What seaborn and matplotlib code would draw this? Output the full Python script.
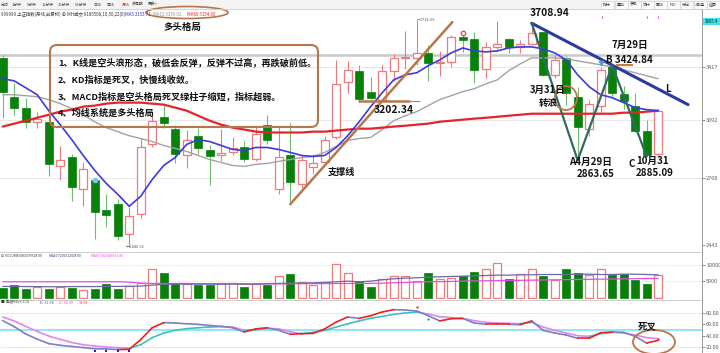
import numpy as np
import pandas as pd
import matplotlib
matplotlib.use("Agg")
import matplotlib.pyplot as plt
import seaborn as sns
from matplotlib.patches import FancyBboxPatch, Ellipse, Rectangle
from matplotlib.ticker import NullLocator, NullFormatter

# ---------------- data: Shanghai Composite, monthly 2018-02 .. 2022-11 ----------------
months = [f"{y}-{m:02d}" for y in range(2018, 2023) for m in range(1, 13)][1:59]

open_px = [3474, 3229, 3163, 3080, 3080, 2831, 2880, 2711, 2762, 2606,
           2636, 2491, 2586, 2951, 3109, 3040, 2895, 3000, 2920, 2890,
           2910, 2935, 2870, 3063, 2711, 2890, 2737, 2830, 2853, 2990,
           3321, 3390, 3260, 3211, 3388, 3474, 3474, 3509, 3442, 3447,
           3614, 3597, 3400, 3545, 3600, 3547, 3568, 3649, 3362, 3472,
           3226, 3040, 3175, 3420, 3244, 3170, 3025, 2896]
high_px = [3494, 3315, 3223, 3139, 3121, 2940, 2896, 2857, 2772, 2686,
           2661, 2621, 2989, 3121, 3180, 3060, 3030, 3046, 2950, 3040,
           2993, 2972, 3050, 3121, 3050, 3074, 2890, 2900, 3000, 3458,
           3455, 3425, 3352, 3430, 3500, 3652, 3731.69, 3558, 3520, 3625,
           3629, 3648, 3581, 3723, 3610, 3594, 3708.94, 3651, 3490, 3485,
           3290, 3211, 3414, 3424.84, 3297, 3253, 3092, 3155]
low_px = [3100, 3121, 3046, 3046, 2778, 2762, 2651, 2626, 2468, 2524,
          2462, 2440.91, 2570, 2934, 3046, 2852, 2822, 2900, 2733, 2860,
          2890, 2857, 2858, 2951, 2686, 2646, 2720, 2790, 2840, 2980,
          3252, 3202.34, 3216, 3209, 3325, 3400, 3429, 3328, 3355, 3416,
          3512, 3312, 3343, 3536, 3507, 3505, 3558, 3355, 3344, 3180,
          2863.65, 2998, 3137, 3225, 3155, 3021, 2885.09, 2886]
close_px = [3260, 3163, 3080, 3098, 2842, 2868, 2721, 2815, 2596, 2581,
            2482, 2576, 2934, 3086, 3074, 2896, 2975, 2932, 2886, 2905,
            2930, 2871, 3010, 2978, 2880, 2748, 2863, 2852, 2978, 3310,
            3395, 3218, 3223, 3391, 3473, 3483, 3509, 3441, 3446, 3615,
            3591, 3397, 3544, 3568, 3547, 3564, 3640, 3361, 3462, 3252,
            3047, 3186, 3398, 3253, 3202, 3024, 2893, 3145]

ma5 = [3340, 3327, 3284, 3241, 3145, 3063, 2978, 2890, 2810, 2742,
       2686, 2626, 2676, 2762, 2836, 2879, 2951, 2978, 2967, 2945,
       2923, 2918, 2934, 2934, 2923, 2907, 2890, 2885, 2890, 2934,
       3000, 3080, 3169, 3253, 3333, 3365, 3378, 3423, 3461, 3507,
       3540, 3520, 3514, 3520, 3540, 3547, 3547, 3534, 3507, 3461,
       3365, 3290, 3241, 3223, 3193, 3163, 3151, 3145]
ma10 = [3241, 3241, 3235, 3229, 3211, 3187, 3157, 3121, 3080, 3046,
        3023, 3000, 2984, 2967, 2945, 2929, 2912, 2890, 2868, 2852,
        2836, 2831, 2842, 2847, 2858, 2868, 2879, 2885, 2907, 2940,
        2973, 2984, 2990, 3035, 3086, 3115, 3139, 3175, 3211, 3235,
        3260, 3278, 3308, 3333, 3391, 3435, 3474, 3474, 3474, 3468,
        3455, 3442, 3429, 3416, 3397, 3378, 3359, 3340]
ma60 = [3052, 3069, 3086, 3103, 3121, 3139, 3151, 3169, 3175, 3187,
        3193, 3193, 3193, 3187, 3181, 3163, 3145, 3115, 3086, 3063,
        3046, 3035, 3023, 3018, 3018, 3018, 3018, 3023, 3023, 3029,
        3035, 3040, 3040, 3046, 3052, 3057, 3063, 3069, 3080, 3086,
        3092, 3098, 3103, 3109, 3115, 3121, 3127, 3127, 3127, 3127,
        3127, 3127, 3127, 3127, 3133, 3133, 3139, 3145]

volume = [2856, 3876, 2652, 3162, 2652, 3162, 2856, 2346, 2652, 4080,
          2550, 3570, 4386, 8772, 7446, 4386, 4080, 3876, 3876, 4386,
          4386, 3162, 4080, 3876, 6630, 7140, 4692, 3876, 4692, 10302,
          7446, 5100, 3162, 5712, 6630, 6630, 5100, 7446, 5712, 5916,
          6630, 7956, 8976, 10710, 5610, 7140, 8772, 6630, 5406, 8772,
          7446, 6936, 8772, 6936, 7140, 5406, 4182, 6936]
vol_ma10 = [3470, 3470, 3420, 3420, 3370, 3370, 3420, 3420, 3420, 3470,
            3470, 3520, 3570, 3880, 4080, 4180, 4180, 4180, 4180, 4130,
            4180, 4130, 4180, 4280, 4380, 4490, 4490, 4590, 4690, 4900,
            5100, 4900, 5100, 5510, 5810, 6020, 6120, 6320, 6430, 6530,
            6630, 6730, 6830, 6940, 6940, 7040, 7040, 7140, 7140, 7140,
            7240, 7240, 7140, 7140, 7240, 7240, 7140, 7040]
vol_ma50 = [4900, 4900, 4900, 4900, 4900, 4900, 4900, 4900, 4900, 4900,
            4900, 4800, 4500, 4400, 4380, 4380, 4380, 4330, 4330, 4330,
            4330, 4280, 4280, 4280, 4280, 4280, 4330, 4330, 4330, 4380,
            4380, 4380, 4430, 4480, 4590, 4690, 4790, 4900, 4950, 5000,
            5100, 5150, 5200, 5250, 5300, 5350, 5400, 5450, 5500, 5550,
            5600, 5650, 5700, 5750, 5800, 5850, 5900, 5920]

k_vals = [66.5, 56, 43, 34, 26, 23, 21, 19, 17, 16.5,
          15.5, 16, 33, 54, 63, 62.4, 61, 60, 58, 56.5,
          54, 46.5, 52, 54, 49.5, 42.5, 43.5, 44, 52, 64,
          73, 70.5, 75.3, 81.8, 85.9, 85.3, 83.5, 75.3, 66, 70,
          70.5, 62.4, 60, 60, 60, 59.4, 66, 49.4, 44.7, 41.2,
          35.3, 35.3, 45.3, 46.5, 45.9, 38.8, 27, 31.8]
d_vals = [73, 66, 56.5, 47.6, 39.4, 33.5, 28, 24, 21.8, 20,
          19, 17.7, 24, 36.5, 44.7, 49.4, 52.4, 54, 55.3, 56,
          55.3, 49.4, 50.6, 53, 52, 47, 43.5, 46, 49.4, 55.3,
          61, 66, 70.6, 74, 77.6, 80, 81.8, 78.2, 73.5, 71.8,
          70.6, 66.5, 63.5, 62.4, 61.8, 61.2, 63.5, 55.3, 49.4, 44.7,
          40, 38.8, 43.5, 45.9, 44.7, 41.2, 36.5, 34.7]

# drawn trend lines (index, price)
resist_x, resist_y = [46, 59.6], [3708.94, 3181]
wave_x, wave_y = [46, 50, 53, 56], [3708.94, 2863.65, 3424.84, 2885.09]
support_x, support_y = [25.0, 39.1], [2636, 3717]

price_ticks = [3417, 3092, 2768, 2443]
vol_ticks = [10000, 5000]
kd_ticks = [80, 60, 40, 20]

notes = ["1、K线是空头浪形态，破低会反弹，反弹不过高，再跌破前低。",
         "2、KD指标是死叉，快慢线收敛。",
         "3、MACD指标是空头格局死叉绿柱子缩短，指标超弱。",
         "4、均线系统是多头格局"]

# ---------------- style ----------------
sns.set_theme(style="white")
CJK = ['Noto Sans CJK SC', 'DejaVu Sans']
plt.rcParams['font.family'] = CJK
plt.rcParams['axes.unicode_minus'] = False

UP = '#f07a7a'
DN = '#08800a'
DN_WICK = '#6cc06c'
BROWN = '#b8764a'

W, H = 720, 353
fig = plt.figure(figsize=(7.2, 3.53), dpi=100)
fig.patch.set_facecolor('white')


def box(top, bottom, left=0, right=702):
    return [left / W, 1 - bottom / H, (right - left) / W, (bottom - top) / H]


ax = fig.add_axes(box(18, 251))
axv = fig.add_axes(box(258, 299))
axk = fig.add_axes(box(301, 353))

x = np.arange(len(open_px))
o = np.array(open_px, float); c = np.array(close_px, float)
hi = np.array(high_px, float); lo = np.array(low_px, float)
up = c >= o

# ---------------- main candle panel ----------------
ax.set_yscale('log')
for p in price_ticks[:3]:
    ax.axhline(p, color='#e4e4e4', lw=0.6, zorder=0)
ax.axhline(3494, color='#c9c9c9', lw=1.8, zorder=0)

ax.vlines(x[up], lo[up], hi[up], color=UP, lw=0.8, zorder=2)
ax.vlines(x[~up], lo[~up], hi[~up], color=DN_WICK, lw=0.8, zorder=2)
blo = np.minimum(o, c)
bh = np.maximum(np.abs(c - o), 2.5)
ax.bar(x[up], bh[up], bottom=blo[up], width=0.72, facecolor='white', edgecolor=UP, lw=0.9, zorder=3)
ax.bar(x[~up], bh[~up], bottom=blo[~up], width=0.72, facecolor=DN, edgecolor=DN, lw=0.5, zorder=3)

sns.lineplot(x=x, y=ma10, ax=ax, color='#a3a3a3', lw=1.0, zorder=4)
sns.lineplot(x=x, y=ma60, ax=ax, color='#e4232a', lw=1.6, zorder=4)
sns.lineplot(x=x, y=ma5, ax=ax, color='#3b3be0', lw=1.2, zorder=5)

# hand-drawn analysis lines
sns.lineplot(x=support_x, y=support_y, ax=ax, color=BROWN, lw=1.8, zorder=6)
sns.lineplot(x=resist_x, y=resist_y, ax=ax, color='#2c3a9e', lw=2.2, zorder=6)
sns.lineplot(x=wave_x, y=wave_y, ax=ax, color='#2f6b5f', lw=1.6, zorder=6, sort=False)
ax.hlines(3202.34, 30.9, 35.4, color=BROWN, lw=1.8, zorder=6)
ax.hlines(3202.34, 35.4, 36.3, color='#3fb0b0', lw=0.8, zorder=6)
ax.hlines(3424.84, 53.3, 54.8, color='#d27a3a', lw=1.5, zorder=6)

# small signal markers
ax.plot(8, 2760, marker='o', ms=3, color='#7fc4f0', zorder=7)
ax.plot(40, 3640, marker='o', ms=3.2, mfc='white', mec='#e05050', mew=1, zorder=7)
ax.plot(52, 3440, marker='v', ms=3.2, color='#4aa0e6', zorder=7)

ax.set_xlim(-0.235, 60.81)
ax.set_ylim(2413.5, 3745.8)
ax.set_xlabel(''); ax.set_ylabel('')
ax.set_xticks([])
ax.yaxis.tick_right()
ax.yaxis.set_minor_locator(NullLocator())
ax.yaxis.set_minor_formatter(NullFormatter())
ax.set_yticks(price_ticks)
ax.set_yticklabels([str(t) for t in price_ticks])
ax.tick_params(axis='y', labelsize=4, colors='#606060', length=2, width=0.5, pad=1)
for s in ax.spines.values():
    s.set_visible(False)
ax.patch.set_alpha(0)

# ---------------- volume panel ----------------
vol = np.array(volume, float)
for t in vol_ticks:
    axv.axhline(t, color='#ececec', lw=0.6, zorder=0)
axv.bar(x[up], vol[up], width=0.72, facecolor='white', edgecolor=UP, lw=0.9, zorder=2)
axv.bar(x[~up], vol[~up], width=0.72, facecolor=DN, edgecolor=DN, lw=0.5, zorder=2)
sns.lineplot(x=x, y=vol_ma50, ax=axv, color='#e050e0', lw=0.9, zorder=3)
sns.lineplot(x=x, y=vol_ma10, ax=axv, color='#6a6aa8', lw=0.9, zorder=3)
axv.set_xlim(-0.235, 60.81)
axv.set_ylim(-400, 12215)
axv.set_xlabel(''); axv.set_ylabel('')
axv.set_xticks([])
axv.yaxis.tick_right()
axv.set_yticks(vol_ticks)
axv.set_yticklabels([str(t) for t in vol_ticks])
axv.tick_params(axis='y', labelsize=4, colors='#606060', length=2, width=0.5, pad=1)
for s in axv.spines.values():
    s.set_visible(False)

# ---------------- KD panel ----------------
axk.axhline(80, color='#e4e4e4', lw=0.6, zorder=0)
axk.axhline(20, color='#e4e4e4', lw=0.6, zorder=0)
axk.axhline(50, color='#86e6ee', lw=1.3, zorder=1)
rows = []
for name, vals in (('D', d_vals), ('K', k_vals)):
    for i in range(len(vals) - 1):
        kind = f"{name}_{'up' if vals[i + 1] >= vals[i] else 'dn'}"
        rows.append(dict(x=i, v=vals[i], seg=f"{name}{i}", kind=kind))
        rows.append(dict(x=i + 1, v=vals[i + 1], seg=f"{name}{i}", kind=kind))
kd = pd.DataFrame(rows)
pal = {'K_up': '#ee2020', 'K_dn': '#7c7ec8', 'D_up': '#3cc2c2', 'D_dn': '#e287e6'}
sns.lineplot(data=kd, x='x', y='v', units='seg', hue='kind', estimator=None,
             palette=pal, legend=False, ax=axk, lw=1.2, zorder=3)
axk.scatter([8, 9, 10, 11], [12.5] * 4, marker='s', s=2.2, color='#2020d0', lw=0, zorder=4)
axk.scatter([36, 57], [90.6, 34], marker='o', s=3, color='#ff3030', lw=0, zorder=4)
axk.scatter([37], [69.4], marker='o', s=3, color='#20c040', lw=0, zorder=4)
axk.set_xlim(-0.235, 60.81)
axk.set_ylim(9.45, 101.2)
axk.set_xlabel(''); axk.set_ylabel('')
axk.set_xticks([])
axk.yaxis.tick_right()
axk.set_yticks(kd_ticks)
axk.set_yticklabels([f"{t:.2f}" for t in kd_ticks])
axk.tick_params(axis='y', labelsize=4, colors='#606060', length=2, width=0.5, pad=1)
for s in axk.spines.values():
    s.set_visible(False)

# ---------------- overlay (pixel coordinates) ----------------
ov = fig.add_axes([0, 0, 1, 1], zorder=10)
ov.set_xlim(0, W); ov.set_ylim(H, 0)
ov.axis('off')
ov.patch.set_alpha(0)

# toolbar
ov.add_patch(Rectangle((0, 0), W, 9, facecolor='#f4f4f4', edgecolor='none'))
ov.plot([0, W], [9, 9], color='#cfcfcf', lw=0.6)
for lab, xx in [("分时", 1), ("1分钟", 12), ("5分钟", 27), ("15分钟", 42), ("30分钟", 58),
                ("60分钟", 75), ("日线", 93), ("周线", 107), ("月线", 122), ("多周期", 132), ("更多>", 148)]:
    ov.text(xx, 4.5, lab, fontsize=2.8, color='#e02020' if lab == "月线" else '#444444',
            va='center', ha='left', family=CJK)
for lab, xx in [("指标", 607), ("叠加", 621), ("多股", 634), ("统计", 647), ("画线", 660),
                ("F10", 673), ("标记", 686), ("+自选", 700), ("返回", 713)]:
    ov.add_patch(Rectangle((xx - 6, 1), 12.5, 7.5, facecolor='#fafafa', edgecolor='#c8c8c8', lw=0.4))
    ov.text(xx, 4.8, lab, fontsize=2.8, color='#333333', va='center', ha='center', family=CJK)

# legend row
ov.text(1, 14, "999999 上证指数(月线,前复权) ⊕ MH成交 6185508,10,50,22(0)", fontsize=3.2,
        color='#333333', va='center', ha='left', family=CJK)
ov.text(125, 14, "MA5 3153.71", fontsize=3.2, color='#3030d0', va='center', ha='left')
ov.text(153, 14, "MA10 3339.02", fontsize=3.2, color='#909090', va='center', ha='left')
ov.text(187, 14, "MA60 3154.60", fontsize=3.2, color='#e02020', va='center', ha='left')
ov.add_patch(Ellipse((187, 12.5), 82, 12, fill=False, edgecolor=BROWN, lw=1.2))

# panel separators / right strip
ov.plot([0, 702], [252, 252], color='#c4c4c4', lw=0.6)
ov.plot([0, 702], [300, 300], color='#c4c4c4', lw=0.6)
ov.plot([702, 702], [9, H], color='#9a9a9a', lw=0.7)
ov.add_patch(Rectangle((703, 18), 17, 7, facecolor='#3ce6e6', edgecolor='none'))
ov.text(711.5, 21.5, "3895.4", fontsize=3.2, color='#202020', va='center', ha='center')
ov.scatter([602, 647, 658], [17, 17, 17], marker='|', s=4, color='#e040e0', lw=0.8)

# panel titles
ov.text(1, 256, "⊙ VOLUME 6869079528.00", fontsize=2.4, color='#333333', va='center', ha='left')
ov.text(49, 256, "MA10 7209212928.00", fontsize=2.4, color='#333366', va='center', ha='left')
ov.text(91, 256, "MA50 5826680352.00", fontsize=2.4, color='#e040e0', va='center', ha='left')
ov.text(1, 302.5, "■ 高级KD(9,3,3)", fontsize=2.7, color='#333333', va='center', ha='left', family=CJK)
ov.text(40, 302.5, "K: 31.68", fontsize=2.7, color='#5050c0', va='center', ha='left')
ov.text(59, 302.5, "D: 34.39", fontsize=2.7, color='#e040e0', va='center', ha='left')
ov.text(79, 302.5, "31.68", fontsize=2.7, color='#ff3030', va='center', ha='left')

# extreme labels
ov.text(417, 20, "⌐3731.69", fontsize=3, color='#555555', va='center', ha='left')
ov.text(126, 247, "←2440.91", fontsize=3, color='#555555', va='center', ha='left')

# comment box
ov.add_patch(FancyBboxPatch((50, 45), 268, 82, boxstyle='round,pad=0,rounding_size=7',
                            fill=False, edgecolor=BROWN, lw=1.5))
for i, line in enumerate(notes):
    ov.text(58, 62 + 17 * i, line, fontsize=6.6, fontweight='bold', color='#111111',
            va='center', ha='left', family=CJK)

bold = dict(fontweight='bold', color='#111111', va='center', ha='center', family=CJK)
ov.text(182, 27, "多头格局", fontsize=6.8, **bold)
ov.text(550, 13, "3708.94", fontsize=7.4, **bold)
ov.text(394, 110, "3202.34", fontsize=7.4, **bold)
ov.text(341, 172, "支撑线", fontsize=6.6, **bold)
ov.text(548, 90, "3月31日", fontsize=6.8, **bold)
ov.text(548, 103, "转浪", fontsize=6.8, **bold)
ov.add_patch(Ellipse((566, 98), 22, 24, fill=False, edgecolor=BROWN, lw=1.3))
ov.text(630, 45, "7月29日", fontsize=7, **bold)
ov.text(629, 60, "B 3424.84", fontsize=7, **bold)
ov.text(668, 89, "L", fontsize=7, **bold)
ov.text(591, 162, "A4月29日", fontsize=7, **bold)
ov.text(596, 174, "2863.65", fontsize=7, **bold)
ov.text(632, 164, "C", fontsize=7, **bold)
ov.text(653, 161, "10月31", fontsize=7, **bold)
ov.text(655, 173, "2885.09", fontsize=7, **bold)
ov.text(647, 326, "死叉", fontsize=6.8, **bold)
ov.add_patch(Ellipse((654, 342), 42, 24, fill=False, edgecolor=BROWN, lw=1.3))

fig.savefig("out.png", dpi=100)
